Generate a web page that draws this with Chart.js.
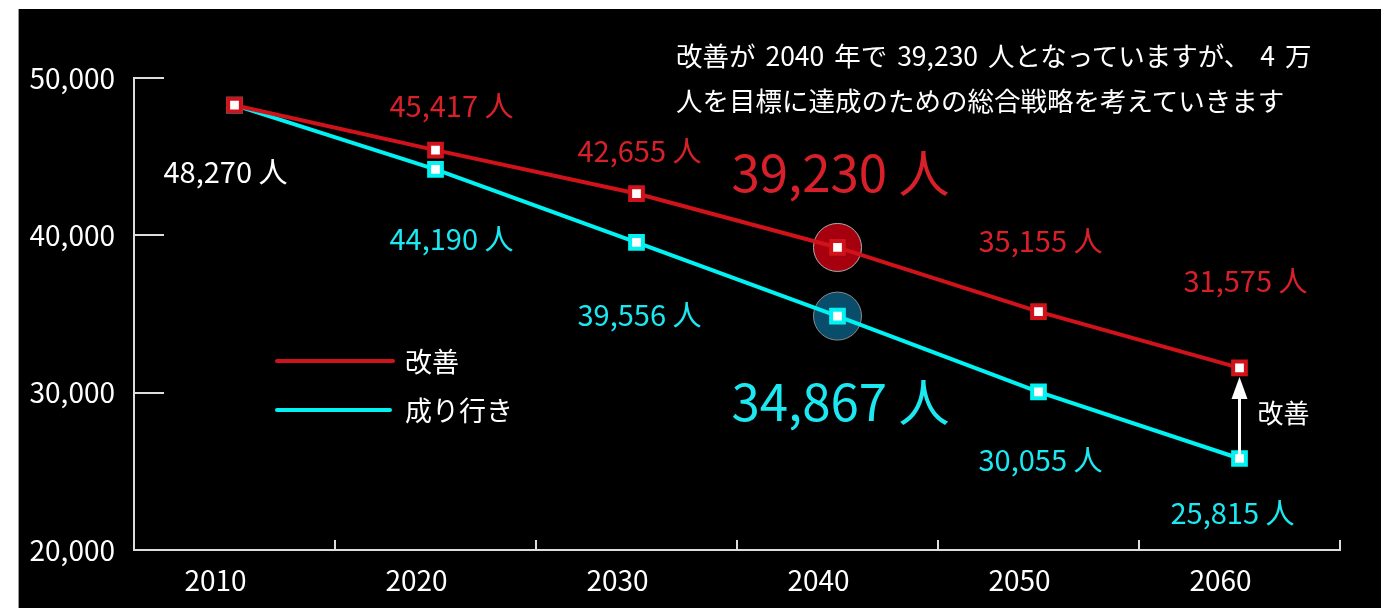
<!DOCTYPE html>
<html lang="ja">
<head>
  <meta charset="UTF-8" />
  <meta name="viewport" content="width=device-width, initial-scale=1.0" />
  <title>改善と成り行き</title>
  <script src="https://cdn.jsdelivr.net/npm/chart.js"></script>
  <style>
    body {
      margin: 0;
      background: #fff;
      font-family: "Noto Sans CJK JP", sans-serif;
    }

    .panel {
      position: absolute;
      left: 18px;
      top: 9px;
      width: 1362px;
      height: 599px;
      background: #000;
      border-left: 1px solid #999;
    }

    .wrap {
      position: absolute;
      left: 0;
      top: 0;
      width: 1399px;
      height: 608px;
    }

    .note {
      position: absolute;
      left: 676px;
      top: 32px;
      color: #fff;
      font-size: 26.5px;
      line-height: 45px;
      white-space: nowrap;
      word-spacing: 4px;
    }

    .legend {
      position: absolute;
      left: 275px;
      color: #fff;
      font-size: 27px;
      line-height: 30px;
    }

    .legend span.line {
      position: absolute;
      left: 0;
      top: 13px;
      width: 120px;
      height: 4px;
      border-radius: 2px;
    }

    .legend span.text {
      position: absolute;
      left: 130px;
      top: 0;
      white-space: nowrap;
    }
  </style>
</head>
<body>
  <div class="panel"></div>
  <div class="wrap"><canvas id="popChart"></canvas></div>
  <div class="note">改善が 2040 年で 39,230 人となっていますが、 4 万<br>人を目標に達成のための総合戦略を考えていきます</div>
  <div class="legend" style="top:346px"><span class="line" style="background:#d0121b"></span><span class="text">改善</span></div>
  <div class="legend" style="top:395px"><span class="line" style="background:#00f2f2;width:117px"></span><span class="text">成り行き</span></div>

  <script>
    const years = ['2010', '2020', '2030', '2040', '2050', '2060'];
    const kaizen = [48270, 45417, 42655, 39230, 35155, 31575];
    const nariyuki = [48270, 44190, 39556, 34867, 30055, 25815];
    const yTicks = [20000, 30000, 40000, 50000];
    const focusIndex = 3; // 2040

    const RED = '#d0121b';
    const CYAN = '#00f2f2';
    const FONT = '"Noto Sans CJK JP", sans-serif';

    // label offset from each point (dx, dy)
    const labelOffsets = [
      [[-9, 67], [16, -44], [3, -43], [3, -75], [2, -71], [6, -87]],
      [null, [16, 70], [3, 73], [3, 86], [2, 68], [-7, 54]]
    ];
    const labelColors = [
      ['#fff', '#d8202a', '#d8202a', '#d8202a', '#d8202a', '#d8202a'],
      [null, '#1ce8f2', '#1ce8f2', '#1ce8f2', '#1ce8f2', '#1ce8f2']
    ];

    const onlyFocus = arr => arr.map((v, i) => (i === focusIndex ? v : null));

    const labelPlugin = {
      id: 'valueLabels',
      afterDatasetsDraw(chart) {
        const ctx = chart.ctx;
        ctx.save();
        ctx.textAlign = 'center';
        ctx.textBaseline = 'middle';
        [0, 1].forEach(di => {
          const meta = chart.getDatasetMeta(di);
          const values = chart.data.datasets[di].data;
          meta.data.forEach((pt, i) => {
            const off = labelOffsets[di][i];
            if (!off) return;
            const size = i === focusIndex ? 51 : 29;
            ctx.font = size + 'px ' + FONT;
            ctx.fillStyle = labelColors[di][i];
            ctx.fillText(values[i].toLocaleString('en-US') + ' 人', pt.x + off[0], pt.y + off[1]);
          });
        });

        // arrow at the last year, from 成り行き up to 改善
        const last = years.length - 1;
        const top = chart.getDatasetMeta(0).data[last];
        const bottom = chart.getDatasetMeta(1).data[last];
        const tipY = top.y + 9;
        ctx.strokeStyle = '#fff';
        ctx.fillStyle = '#fff';
        ctx.lineWidth = 3;
        ctx.beginPath();
        ctx.moveTo(top.x, bottom.y);
        ctx.lineTo(top.x, tipY + 18);
        ctx.stroke();
        ctx.beginPath();
        ctx.moveTo(top.x, tipY);
        ctx.lineTo(top.x - 8, tipY + 22);
        ctx.lineTo(top.x + 8, tipY + 22);
        ctx.closePath();
        ctx.fill();
        ctx.font = '26px ' + FONT;
        ctx.textAlign = 'left';
        ctx.fillText('改善', top.x + 18, (top.y + bottom.y) / 2);
        ctx.restore();
      }
    };

    new Chart(document.getElementById('popChart'), {
      type: 'line',
      data: {
        labels: years,
        datasets: [
          {
            label: '改善',
            data: kaizen,
            borderColor: RED,
            borderWidth: 4,
            pointStyle: 'rect',
            pointRadius: 9,
            pointBorderWidth: 4,
            pointBackgroundColor: '#fff',
            pointBorderColor: RED,
            order: 0
          },
          {
            label: '成り行き',
            data: nariyuki,
            borderColor: CYAN,
            borderWidth: 4,
            pointStyle: 'rect',
            pointRadius: 9,
            pointBorderWidth: 4,
            pointBackgroundColor: '#fff',
            pointBorderColor: CYAN,
            order: 1
          },
          {
            data: onlyFocus(kaizen),
            showLine: false,
            pointRadius: 24,
            pointBackgroundColor: '#a6000f',
            pointBorderColor: '#b0b0b0',
            pointBorderWidth: 1,
            order: 2
          },
          {
            data: onlyFocus(nariyuki),
            showLine: false,
            pointRadius: 24,
            pointBackgroundColor: '#0a4d6a',
            pointBorderColor: '#8a8a8a',
            pointBorderWidth: 1,
            order: 3
          }
        ]
      },
      options: {
        responsive: true,
        maintainAspectRatio: false,
        animation: false,
        layout: { padding: { top: 78, right: 59, left: 0, bottom: 0 } },
        plugins: {
          legend: { display: false },
          tooltip: { enabled: false }
        },
        scales: {
          x: {
            offset: true,
            grid: { offset: true, drawOnChartArea: false, tickLength: -10, color: '#ddd', lineWidth: 2 },
            border: { color: '#ddd', width: 2 },
            ticks: { color: '#fff', font: { family: FONT, size: 28 }, padding: 24, labelOffset: -19, maxRotation: 0 },
            afterFit: s => { s.height = 58; }
          },
          y: {
            min: 20000,
            max: 50000,
            afterBuildTicks: s => { s.ticks = yTicks.map(v => ({ value: v })); },
            grid: { drawOnChartArea: false, tickLength: -30, color: '#ddd', lineWidth: 2 },
            border: { color: '#ddd', width: 2 },
            ticks: {
              color: '#fff',
              font: { family: FONT, size: 28 },
              padding: 49,
              callback: v => v.toLocaleString('en-US')
            },
            afterFit: s => {
              s.width = 134;
              s.paddingTop = 10;
              s.paddingBottom = 10;
            }
          }
        }
      },
      plugins: [labelPlugin]
    });
  </script>
</body>
</html>
